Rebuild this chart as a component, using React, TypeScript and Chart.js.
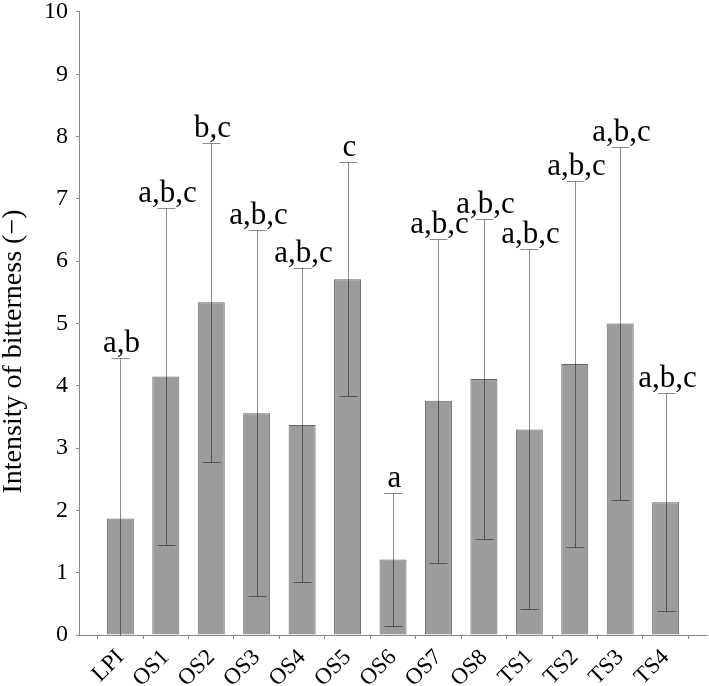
import React, { useEffect, useRef } from "react";
import { Chart, registerables } from "chart.js";

Chart.register(...registerables);

const categories = ["LPI", "OS1", "OS2", "OS3", "OS4", "OS5", "OS6", "OS7", "OS8", "TS1", "TS2", "TS3", "TS4"];
const means = [1.87, 4.15, 5.34, 3.56, 3.37, 5.71, 1.21, 3.76, 4.11, 3.3, 4.35, 5.0, 2.13];
const sds = [2.58, 2.71, 2.56, 2.94, 2.52, 1.88, 1.07, 2.6, 2.57, 2.89, 2.93, 2.84, 1.75];
const letters = ["a,b", "a,b,c", "b,c", "a,b,c", "a,b,c", "c", "a", "a,b,c", "a,b,c", "a,b,c", "a,b,c", "a,b,c", "a,b,c"];
const yTitle = "Intensity of bitterness (\u2212)";

const SERIF = "'Liberation Serif', 'Times New Roman', serif";

const errorPlugin = {
  id: "errorBarsLetters",
  afterDatasetsDraw(chart: any) {
    const { ctx, scales } = chart;
    const x = scales.x;
    const y = scales.y;
    ctx.save();
    ctx.strokeStyle = "rgba(0,0,0,0.45)";
    ctx.lineWidth = 1;
    const capHalf = 9;
    means.forEach((m, i) => {
      const px = Math.round(x.getPixelForValue(i)) + 0.5;
      const hiVal = m + sds[i];
      const loVal = m - sds[i];
      const top = Math.round(y.getPixelForValue(hiVal)) + 0.5;
      const low = Math.round(y.getPixelForValue(Math.max(0, loVal))) + 0.5;
      ctx.beginPath();
      ctx.moveTo(px, top);
      ctx.lineTo(px, low);
      ctx.moveTo(px - capHalf, top);
      ctx.lineTo(px + capHalf, top);
      if (loVal >= 0) {
        ctx.moveTo(px - capHalf, low);
        ctx.lineTo(px + capHalf, low);
      }
      ctx.stroke();
      ctx.fillStyle = "#000";
      ctx.font = `31px ${SERIF}`;
      ctx.textAlign = "center";
      ctx.textBaseline = "alphabetic";
      ctx.fillText(letters[i], px + 1, top - 7);
    });
    // y-axis title, centred where the reference places it
    const area = chart.chartArea;
    ctx.save();
    ctx.translate(14, (area.top + area.bottom) / 2 + 28);
    ctx.rotate(-Math.PI / 2);
    ctx.fillStyle = "#000";
    ctx.font = `28px ${SERIF}`;
    ctx.textAlign = "center";
    ctx.textBaseline = "middle";
    ctx.fillText(yTitle, 0, 0);
    ctx.restore();
    ctx.restore();
  },
};

export default function App() {
  const ref = useRef<HTMLCanvasElement | null>(null);
  useEffect(() => {
    if (!ref.current) return;
    const chart = new Chart(ref.current, {
      type: "bar",
      data: {
        datasets: [
          {
            data: means.map((v, i) => ({ x: i, y: v })),
            backgroundColor: "#9c9c9c",
            borderColor: "#666",
            borderWidth: 1,
            categoryPercentage: 0.6,
            barPercentage: 0.99,
          },
        ],
      },
      options: {
        responsive: false,
        animation: false,
        layout: { padding: { top: 0, right: 2, left: 0, bottom: 0 } },
        plugins: { legend: { display: false }, tooltip: { enabled: false } },
        scales: {
          x: {
            type: "linear",
            min: -0.91,
            max: 12.91,
            offset: false,
            afterBuildTicks: (scale: any) => {
              scale.ticks = categories.map((_, i) => ({ value: i }));
            },
            afterFit: (scale: any) => {
              scale.height = 51;
            },
            ticks: {
              autoSkip: false,
              minRotation: 45,
              maxRotation: 45,
              padding: 5,
              color: "#000",
              font: { family: SERIF, size: 23 },
              callback: (v: any) => categories[v as number] ?? "",
            },
            grid: { drawOnChartArea: false, tickLength: 4, color: "#888" },
            border: { color: "#888", width: 1 },
          },
          y: {
            min: 0,
            max: 10,
            ticks: {
              stepSize: 1,
              padding: 8,
              color: "#000",
              font: { family: SERIF, size: 24, lineHeight: 0.3333 },
            },
            afterFit: (scale: any) => {
              scale.width = 79;
            },
            grid: { drawOnChartArea: false, tickLength: 3, color: "#888" },
            border: { color: "#888", width: 1 },
          },
        },
      },
      plugins: [errorPlugin],
    });
    return () => chart.destroy();
  }, []);
  return (
    <div style={{ position: "absolute", left: 0, top: 0, width: 709, height: 686, background: "#fff" }}>
      <canvas ref={ref} width={709} height={686} />
    </div>
  );
}
